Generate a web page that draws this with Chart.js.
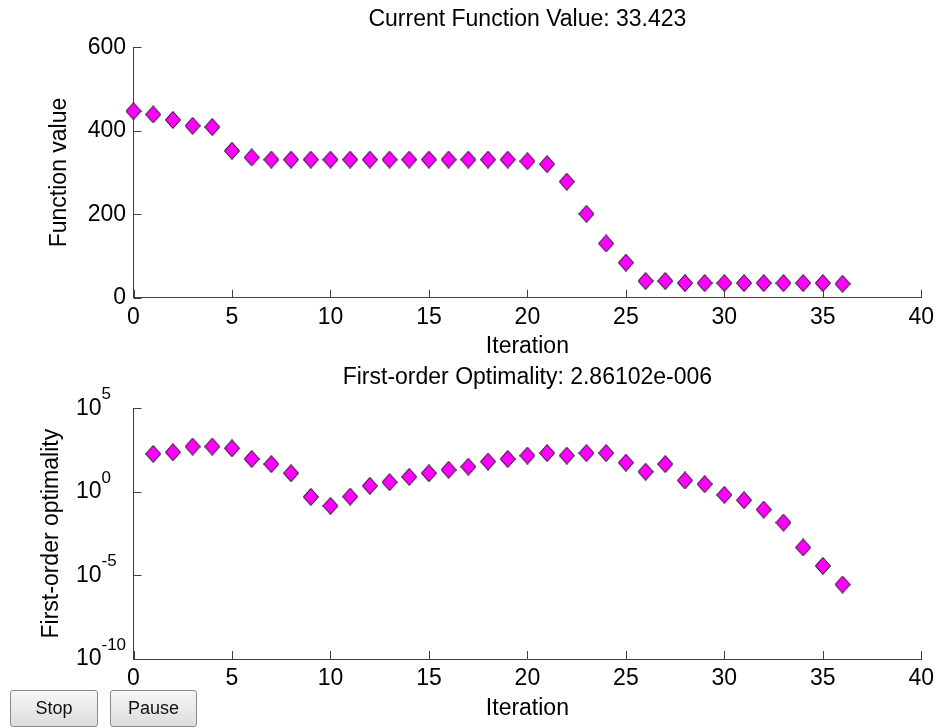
<!DOCTYPE html>
<html>
<head>
<title>Optimization progress</title>
<script src="https://cdn.jsdelivr.net/npm/chart.js@4.4.1/dist/chart.umd.min.js"></script>
<style>
  body { margin: 0; background: #fff; }
  #wrap { position: relative; width: 940px; height: 728px; overflow: hidden; }
  canvas { position: absolute; left: 0; }
  #fvalChart { top: 0; }
  #optChart { top: 362px; }
  .btn {
    position: absolute; top: 690px; height: 37px;
    font: 18px 'Liberation Sans', Arial, sans-serif; color: #111;
    background: linear-gradient(#f7f7f7, #dcdcdc);
    border: 1px solid #8a8a8a; border-radius: 3px; padding: 0;
  }
  #stop { left: 10px; width: 88px; }
  #pause { left: 110px; width: 87px; }
</style>
</head>
<body>
<div id="wrap">
  <canvas id="fvalChart" width="940" height="362"></canvas>
  <canvas id="optChart" width="940" height="366"></canvas>
  <button class="btn" id="stop">Stop</button>
  <button class="btn" id="pause">Pause</button>
</div>
<script>
// top plot: function value per iteration
const fvalIter = [0, 1, 2, 3, 4, 5, 6, 7, 8, 9, 10, 11, 12, 13, 14, 15, 16, 17, 18,
  19, 20, 21, 22, 23, 24, 25, 26, 27, 28, 29, 30, 31, 32, 33, 34, 35, 36];
const fvalues = [447, 439, 426, 412, 409, 352, 336, 331, 331, 331, 331, 331, 331, 331,
  331, 331, 331, 331, 331, 331, 327, 320, 278, 201, 130, 84, 40, 40, 35, 35, 35, 35,
  35, 35, 35, 35, 33.423];

// bottom plot: first-order optimality (log scale)
const optIter = [1, 2, 3, 4, 5, 6, 7, 8, 9, 10, 11, 12, 13, 14, 15, 16, 17, 18,
  19, 20, 21, 22, 23, 24, 25, 26, 27, 28, 29, 30, 31, 32, 33, 34, 35, 36];
const optValues = [186, 234, 513, 513, 407, 93, 46, 13, 0.5, 0.145, 0.52, 2.3, 3.8,
  7.9, 13, 21, 32, 65, 93, 148, 209, 148, 209, 209, 56, 16, 46, 4.8, 2.9, 0.66, 0.32,
  0.087, 0.0145, 4.7e-4, 3.7e-5, 2.86102e-6];

const xTicks = [0, 5, 10, 15, 20, 25, 30, 35, 40];
const fvalTicks = [0, 200, 400, 600];
const optTicks = [1e-10, 1e-5, 1, 1e5];

const FONT = "'Liberation Sans', Arial, sans-serif";
const AXIS = '#404040';
const SIZE = 23;

function diamond() {
  const c = document.createElement('canvas');
  c.width = 16; c.height = 18;
  const g = c.getContext('2d');
  g.beginPath();
  g.moveTo(8, 0.5); g.lineTo(15.5, 9); g.lineTo(8, 17.5); g.lineTo(0.5, 9);
  g.closePath();
  g.fillStyle = '#ff00ff'; g.fill();
  g.strokeStyle = '#000'; g.lineWidth = 1; g.stroke();
  return c;
}
const marker = diamond();

// matlab style ticks pointing into the plot
const innerTicks = {
  id: 'innerTicks',
  afterDraw(chart) {
    const ctx = chart.ctx, a = chart.chartArea;
    const xs = chart.scales.x, ys = chart.scales.y;
    ctx.save();
    ctx.strokeStyle = AXIS;
    ctx.lineWidth = 1;
    ctx.beginPath();
    xs.ticks.forEach(t => {
      const px = Math.round(xs.getPixelForValue(t.value)) + 0.5;
      ctx.moveTo(px, a.bottom);
      ctx.lineTo(px, a.bottom - 8);
    });
    ys.ticks.forEach(t => {
      const py = Math.round(ys.getPixelForValue(t.value)) + 0.5;
      ctx.moveTo(a.left, py);
      ctx.lineTo(a.left + 8, py);
    });
    ctx.stroke();
    ctx.restore();
  }
};

function xAxis(h, titleBottom) {
  return {
    type: 'linear', min: 0, max: 40,
    afterBuildTicks: s => { s.ticks = xTicks.map(v => ({ value: v })); },
    afterFit: s => { s.height = h; },
    border: { color: AXIS, width: 1 },
    grid: { drawOnChartArea: false, drawTicks: false },
    ticks: { font: { family: FONT, size: SIZE }, color: '#000', padding: 5.9, maxRotation: 0, autoSkip: false },
    title: { display: true, text: 'Iteration', color: '#000', font: { family: FONT, size: SIZE },
      padding: { top: 0, bottom: titleBottom } }
  };
}

function yAxis(text, titleTop) {
  return {
    afterFit: s => { s.width = 133.5; },
    border: { color: AXIS, width: 1 },
    grid: { drawOnChartArea: false, drawTicks: false },
    ticks: { font: { family: FONT, size: SIZE }, color: '#000', padding: 7.5, autoSkip: false },
    title: { display: true, text: text, color: '#000', font: { family: FONT, size: SIZE },
      padding: { top: titleTop, bottom: 0 } }
  };
}

function titleOpts(text, top, bottom) {
  return {
    display: true, text: text, fullSize: false, color: '#000',
    font: { family: FONT, size: SIZE, weight: 'normal' },
    padding: { top: top, bottom: bottom }
  };
}

const common = {
  responsive: false,
  animation: false,
  devicePixelRatio: 1,
  layout: { padding: { left: 0, right: 17.3, top: 0, bottom: 0 } },
  events: []
};

// top chart
const yTop = yAxis('Function value', 46.2);
yTop.min = 0; yTop.max = 600;
yTop.afterBuildTicks = s => { s.ticks = fvalTicks.map(v => ({ value: v })); };

new Chart(document.getElementById('fvalChart'), {
  type: 'scatter',
  data: {
    datasets: [{
      data: fvalIter.map((x, i) => ({ x: x, y: fvalues[i] })),
      pointStyle: marker, pointRadius: 8, clip: false
    }]
  },
  options: Object.assign({}, common, {
    scales: { x: xAxis(64.3, 1.2), y: yTop },
    plugins: {
      legend: { display: false }, tooltip: { enabled: false },
      title: titleOpts('Current Function Value: 33.423', 6.2, 13.5)
    }
  }),
  plugins: [innerTicks]
});

// bottom chart, exponent labels drawn as 10 with a raised power
const powerLabels = {
  id: 'powerLabels',
  afterDraw(chart) {
    const s = chart.scales.y, ctx = chart.ctx;
    ctx.save();
    ctx.fillStyle = '#000';
    ctx.textBaseline = 'middle';
    s.ticks.forEach(t => {
      const y = s.getPixelForValue(t.value);
      const e = Math.round(Math.log10(t.value));
      ctx.font = SIZE + 'px ' + FONT; ctx.textAlign = 'right';
      ctx.fillText('10', 101.5, y);
      ctx.font = '17px ' + FONT; ctx.textAlign = 'left';
      ctx.fillText(String(e), 101.5, y - 14);
    });
    ctx.restore();
  }
};

const yBot = yAxis('First-order optimality', 38.2);
yBot.type = 'logarithmic';
yBot.min = 1e-10; yBot.max = 1e5;
yBot.afterBuildTicks = s => { s.ticks = optTicks.map(v => ({ value: v })); };
yBot.ticks.callback = () => '';

new Chart(document.getElementById('optChart'), {
  type: 'scatter',
  data: {
    datasets: [{
      data: optIter.map((x, i) => ({ x: x, y: optValues[i] })),
      pointStyle: marker, pointRadius: 8, clip: false
    }]
  },
  options: Object.assign({}, common, {
    scales: { x: xAxis(69, 5.2), y: yBot },
    plugins: {
      legend: { display: false }, tooltip: { enabled: false },
      title: titleOpts('First-order Optimality: 2.86102e-006', 2.2, 16.5)
    }
  }),
  plugins: [innerTicks, powerLabels]
});
</script>
</body>
</html>
